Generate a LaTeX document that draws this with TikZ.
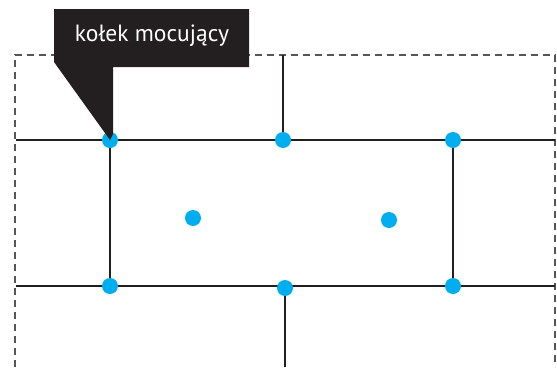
\documentclass[tikz,border=0pt]{standalone}
\usepackage{fontspec}
\setmainfont{PT Sans}
\definecolor{pincyan}{HTML}{00AEEF}
\definecolor{inkblack}{HTML}{231F20}
\definecolor{dashgray}{HTML}{555555}
\begin{document}
\begin{tikzpicture}[x=1pt,y=-1pt,
  pin/.style={circle,inner sep=0pt,minimum size=16pt},
  pindot/.style={fill=pincyan},
  beam/.style={draw=inkblack,line width=2pt},
  frame/.style={draw=dashgray,line width=1.4pt,dash pattern=on 7pt off 5pt}]
\useasboundingbox (0,0) rectangle (557,367);
% outer dashed outline (open at the bottom)
\draw[frame] (15,367) -- (15,55) -- (555,55) -- (555,367);
% free ends of the beams on the outline
\coordinate (tl) at (16,140);
\coordinate (tr) at (555,140);
\coordinate (bl) at (16,286);
\coordinate (br) at (555,286);
\coordinate (topend) at (283,55);
\coordinate (botend) at (285,367);
% pin positions
\node[pin] (p1) at (110,140) {};
\node[pin] (p2) at (283,140) {};
\node[pin] (p3) at (453,140) {};
\node[pin] (p4) at (193,218) {};
\node[pin] (p5) at (389,220) {};
\node[pin] (p6) at (110,286) {};
\node[pin] (p7) at (285,288) {};
\node[pin] (p8) at (453,286) {};
% beams
\draw[beam] (tl) -- (tr);
\draw[beam] (bl) -- (br);
\draw[beam] (topend) -- (p2.center);
\draw[beam] (p7.center) -- (botend);
\draw[beam] (p1.center) -- (p6.center);
\draw[beam] (p3.center) -- (p8.center);
% pins on top of the beams
\foreach \p in {p1,p2,p3,p4,p5,p6,p7,p8}
  \fill[pindot] (\p) circle (8pt);
% callout
\fill[inkblack] (54,9) -- (249,9) -- (249,67) -- (113,67) -- (113,134)
  -- (p1.center) -- (54,62) -- cycle;
\node[text=white,font=\fontsize{23.5}{26}\selectfont,anchor=center] (lbl) at (152,36) {kołek mocujący};
\end{tikzpicture}
\end{document}
